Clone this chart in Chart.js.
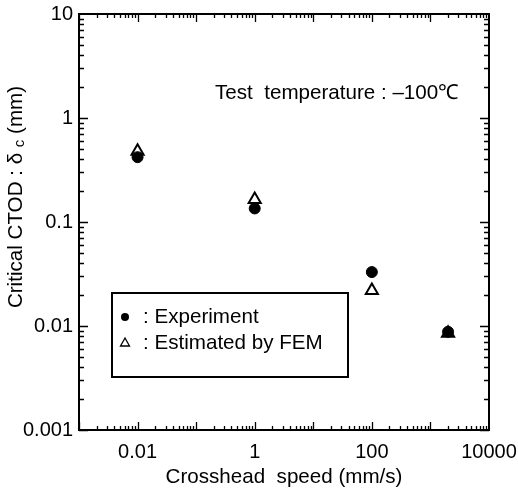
<!DOCTYPE html>
<html>
<head>
<meta charset="utf-8">
<script src="https://cdn.jsdelivr.net/npm/chart.js@4"></script>
<style>
  html, body { margin: 0; padding: 0; background: #fff; }
</style>
</head>
<body>
<canvas id="chart" width="518" height="493"></canvas>
<script>
// values
const speeds = [0.01, 1, 100, 2000];
const experiment = [0.42, 0.135, 0.033, 0.0088];
const femEstimate = [0.48, 0.165, 0.022, 0.0085];

const xTicks = [0.01, 1, 100, 10000];
const xTickLabels = ['0.01', '1', '100', '10000'];
const yTicks = [0.001, 0.01, 0.1, 1, 10];
const yTickLabels = ['0.001', '0.01', '0.1', '1', '10'];

const legendLabels = [': Experiment', ': Estimated by FEM'];
const noteText = 'Test  temperature : \u2013100\u2103';

const FONT = "'Liberation Sans', Arial, Helvetica, sans-serif";
const FS = 20.6;   // titles, legend, note
const TFS = 20;    // tick labels

// keep the plot box where the figure has it, regardless of label overflow
function fixBox(s, size) {
    if (s.isHorizontal()) s.height = size; else s.width = size;
    s.paddingLeft = 0; s.paddingRight = 0;
    s.paddingTop = 0; s.paddingBottom = 0;
}

// frame, inward ticks, legend box, note, y title
const decor = {
    id: 'decor',
    afterDraw(chart) {
        const ctx = chart.ctx;
        const a = chart.chartArea;
        const xs = chart.scales.x;
        const ys = chart.scales.y;
        ctx.save();
        ctx.strokeStyle = '#000';

        // minor + major ticks, pointing inward
        ctx.lineWidth = 1.3;
        ctx.beginPath();
        for (let d = -3; d < 4; d++) {
            for (let m = 1; m <= 9; m++) {
                const px = Math.round(xs.getPixelForValue(m * Math.pow(10, d))) + 0.5;
                const len = m === 1 ? 8 : 4;
                ctx.moveTo(px, a.bottom); ctx.lineTo(px, a.bottom - len);
                ctx.moveTo(px, a.top); ctx.lineTo(px, a.top + len);
            }
        }
        for (let d = -3; d < 1; d++) {
            for (let m = 1; m <= 9; m++) {
                const py = Math.round(ys.getPixelForValue(m * Math.pow(10, d))) + 0.5;
                const len = m === 1 ? 9 : 5;
                ctx.moveTo(a.left, py); ctx.lineTo(a.left + len, py);
                ctx.moveTo(a.right, py); ctx.lineTo(a.right - len, py);
            }
        }
        ctx.stroke();

        ctx.lineWidth = 2;
        ctx.strokeRect(a.left, a.top, a.right - a.left, a.bottom - a.top);

        // legend box
        ctx.strokeRect(112, 293, 236, 84);
        ctx.fillStyle = '#000';
        ctx.beginPath();
        ctx.arc(125, 317, 4, 0, Math.PI * 2);
        ctx.fill();
        ctx.lineWidth = 1.3;
        ctx.beginPath();
        ctx.moveTo(125, 338); ctx.lineTo(129.5, 346); ctx.lineTo(120.5, 346); ctx.closePath();
        ctx.stroke();

        ctx.font = FS + 'px ' + FONT;
        ctx.textBaseline = 'middle';
        ctx.textAlign = 'left';
        ctx.fillText(legendLabels[0], 143, 317);
        ctx.fillText(legendLabels[1], 143, 343);

        ctx.fillText(noteText, 215, 93);

        // rotated y title with subscript c
        const p1 = 'Critical CTOD : \u03b4 ';
        const p2 = 'c';
        const p3 = ' (mm)';
        ctx.font = FS + 'px ' + FONT;
        const w1 = ctx.measureText(p1).width;
        const w3 = ctx.measureText(p3).width;
        ctx.font = '15px ' + FONT;
        const w2 = ctx.measureText(p2).width;
        const total = w1 + w2 + w3;
        ctx.translate(16, 197);
        ctx.rotate(-Math.PI / 2);
        const x0 = -total / 2;
        ctx.font = FS + 'px ' + FONT;
        ctx.fillText(p1, x0, 0);
        ctx.font = '15px ' + FONT;
        ctx.fillText(p2, x0 + w1, 4);
        ctx.font = FS + 'px ' + FONT;
        ctx.fillText(p3, x0 + w1 + w2, 0);
        ctx.restore();
    }
};

new Chart(document.getElementById('chart'), {
    type: 'scatter',
    data: {
        datasets: [
            {
                label: 'Experiment',
                data: speeds.map((s, i) => ({ x: s, y: experiment[i] })),
                pointStyle: 'circle',
                pointRadius: 5.5,
                backgroundColor: '#000',
                borderColor: '#000',
                borderWidth: 1,
                order: 0
            },
            {
                label: 'Estimated by FEM',
                data: speeds.map((s, i) => ({ x: s, y: femEstimate[i] })),
                pointStyle: 'triangle',
                pointRadius: 7,
                backgroundColor: '#fff',
                borderColor: '#000',
                borderWidth: 2,
                order: 1
            }
        ]
    },
    options: {
        responsive: false,
        animation: false,
        devicePixelRatio: 1,
        layout: { padding: { top: 14, right: 29, bottom: 0, left: 0 } },
        plugins: {
            legend: { display: false },
            tooltip: { enabled: false }
        },
        scales: {
            x: {
                type: 'logarithmic',
                min: 0.001,
                max: 10000,
                afterBuildTicks: s => { s.ticks = xTicks.map(v => ({ value: v })); },
                afterFit: s => fixBox(s, 63),
                grid: { display: false, drawTicks: false },
                border: { display: false },
                ticks: {
                    color: '#000',
                    font: { family: FONT, size: TFS },
                    padding: 10,
                    autoSkip: false,
                    maxRotation: 0,
                    callback: v => xTickLabels[xTicks.indexOf(v)]
                },
                title: {
                    display: true,
                    text: 'Crosshead  speed (mm/s)',
                    color: '#000',
                    font: { family: FONT, size: FS },
                    padding: { top: 0, bottom: 3 }
                }
            },
            y: {
                type: 'logarithmic',
                min: 0.001,
                max: 10,
                afterBuildTicks: s => { s.ticks = yTicks.map(v => ({ value: v })); },
                afterFit: s => fixBox(s, 79),
                grid: { display: false, drawTicks: false },
                border: { display: false },
                ticks: {
                    color: '#000',
                    font: { family: FONT, size: TFS },
                    padding: 6,
                    autoSkip: false,
                    callback: v => yTickLabels[yTicks.indexOf(v)]
                }
            }
        }
    },
    plugins: [decor]
});
</script>
</body>
</html>
